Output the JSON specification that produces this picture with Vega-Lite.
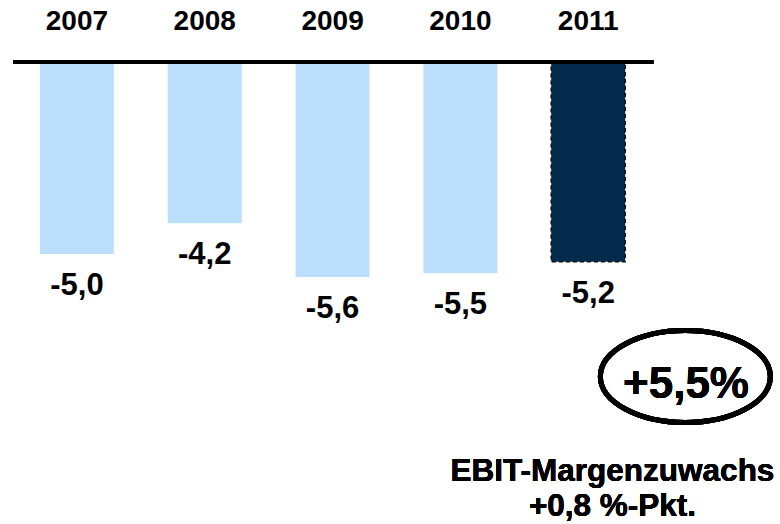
{
  "$schema": "https://vega.github.io/schema/vega-lite/v6.json",
  "autosize": "none",
  "width": 772,
  "height": 524,
  "padding": {"left": 8, "top": 0, "right": 0, "bottom": 0},
  "background": "white",
  "config": {
    "view": {"stroke": null},
    "locale": {"number": {"decimal": ",", "thousands": ".", "grouping": [3], "currency": ["", " €"], "minus": "-"}},
    "text": {"font": "Liberation Sans", "fontWeight": "bold", "color": "black"}
  },
  "data": {
    "values": [
      {"year": 2007, "value": -5.0},
      {"year": 2008, "value": -4.2},
      {"year": 2009, "value": -5.6},
      {"year": 2010, "value": -5.5},
      {"year": 2011, "value": -5.2}
    ]
  },
  "encoding": {
    "x": {"field": "year", "type": "quantitative", "scale": {"domain": [2006.5, 2012.4614], "nice": false, "zero": false}, "axis": null},
    "y": {"field": "value", "type": "quantitative", "scale": {"domain": [-12.03, 1.6146], "nice": false, "zero": false}, "axis": null}
  },
  "layer": [
    {
      "mark": {"type": "bar", "size": 74, "strokeDash": [4, 3], "strokeWidth": 1.5},
      "encoding": {
        "color": {"condition": {"test": "datum.year === 2011", "value": "#032B4E"}, "value": "#BBDFFC"},
        "stroke": {"condition": {"test": "datum.year === 2011", "value": "#111111"}, "value": null}
      }
    },
    {
      "mark": {"type": "rule", "color": "black", "strokeWidth": 4},
      "encoding": {
        "x": {"datum": 2006.5, "type": "quantitative"},
        "x2": {"datum": 2011.51},
        "y": {"datum": 0, "type": "quantitative"}
      }
    },
    {
      "mark": {"type": "text", "fontSize": 28, "baseline": "alphabetic", "align": "center", "dy": -32},
      "encoding": {
        "y": {"datum": 0, "type": "quantitative"},
        "text": {"field": "year", "type": "quantitative", "format": "d"}
      }
    },
    {
      "mark": {"type": "text", "fontSize": 31, "baseline": "alphabetic", "align": "center", "dy": 41},
      "encoding": {
        "text": {"field": "value", "type": "quantitative", "format": ".1f"}
      }
    },
    {
      "mark": {"type": "point", "shape": "M-1,0A1,0.541,0,1,1,1,0A1,0.541,0,1,1,-1,0Z", "size": 28900, "filled": false, "stroke": "black", "strokeWidth": 5, "opacity": 1},
      "encoding": {
        "x": {"datum": 2011.76, "type": "quantitative"},
        "y": {"datum": -8.19, "type": "quantitative"}
      }
    },
    {
      "mark": {"type": "text", "text": "+5,5%", "fontSize": 44, "baseline": "alphabetic", "align": "center"},
      "encoding": {
        "x": {"datum": 2011.765, "type": "quantitative"},
        "y": {"datum": -8.75, "type": "quantitative"}
      }
    },
    {
      "mark": {"type": "text", "text": "EBIT-Margenzuwachs", "fontSize": 31.5, "baseline": "alphabetic", "align": "center"},
      "encoding": {
        "x": {"datum": 2011.19, "type": "quantitative"},
        "y": {"datum": -10.91, "type": "quantitative"}
      }
    },
    {
      "mark": {"type": "text", "text": "+0,8 %-Pkt.", "fontSize": 31.5, "baseline": "alphabetic", "align": "center"},
      "encoding": {
        "x": {"datum": 2011.19, "type": "quantitative"},
        "y": {"datum": -11.82, "type": "quantitative"}
      }
    }
  ]
}
